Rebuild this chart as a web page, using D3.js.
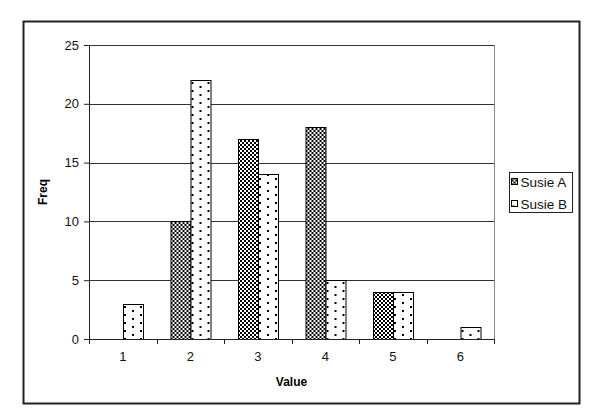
<!DOCTYPE html>
<html>
<head>
<meta charset="utf-8">
<script src="https://cdn.jsdelivr.net/npm/d3@7"></script>
<style>
  body { margin: 0; background: #fff; }
  text { font-family: "Liberation Sans", Arial, sans-serif; }
</style>
</head>
<body>
<div id="chart"></div>
<script>
const categories = ["1", "2", "3", "4", "5", "6"];
const seriesNames = ["Susie A", "Susie B"];
const susieA = [0, 10, 17, 18, 4, 0];
const susieB = [3, 22, 14, 5, 4, 1];
const yTicks = [0, 5, 10, 15, 20, 25];

function drawChart() {
    const width = 590;
    const height = 414;
    const plot = { left: 89, right: 494, top: 45, bottom: 339 };

    const svg = d3.select('#chart')
        .append('svg')
        .attr('width', width)
        .attr('height', height);

    // fill patterns, like the old Excel black & white ones
    const defs = svg.append('defs');
    const checker = defs.append('pattern')
        .attr('id', 'checker')
        .attr('patternUnits', 'userSpaceOnUse')
        .attr('width', 4).attr('height', 4);
    checker.append('rect').attr('width', 4).attr('height', 4).attr('fill', '#fff');
    checker.append('rect').attr('width', 2).attr('height', 2).attr('fill', '#000');
    checker.append('rect').attr('x', 2).attr('y', 2).attr('width', 2).attr('height', 2).attr('fill', '#000');

    const dots = defs.append('pattern')
        .attr('id', 'dots')
        .attr('patternUnits', 'userSpaceOnUse')
        .attr('width', 16).attr('height', 8);
    dots.append('rect').attr('width', 16).attr('height', 8).attr('fill', '#fff');
    dots.append('rect').attr('x', 3).attr('y', 2).attr('width', 2).attr('height', 2).attr('fill', '#000');
    dots.append('rect').attr('x', 11).attr('y', 6).attr('width', 2).attr('height', 2).attr('fill', '#000');

    const fills = { "Susie A": "url(#checker)", "Susie B": "url(#dots)" };

    // outer chart border
    svg.append('rect')
        .attr('x', 23.5).attr('y', 21.5)
        .attr('width', 556).attr('height', 382)
        .attr('fill', 'none')
        .attr('stroke', '#222')
        .attr('stroke-width', 2);

    const x0 = d3.scaleBand()
        .domain(categories)
        .range([plot.left, plot.right]);

    const barW = 19.5;
    const x1 = d3.scaleBand()
        .domain(seriesNames)
        .range([(x0.bandwidth() - 2 * barW) / 2, (x0.bandwidth() + 2 * barW) / 2]);

    const y = d3.scaleLinear()
        .domain([0, 25])
        .range([plot.bottom, plot.top]);

    // gridlines
    svg.append('g')
        .selectAll('line')
        .data(yTicks.slice(1))
        .enter()
        .append('line')
        .attr('x1', plot.left).attr('x2', plot.right)
        .attr('y1', d => Math.round(y(d)) + 0.5)
        .attr('y2', d => Math.round(y(d)) + 0.5)
        .attr('stroke', '#333');

    // right edge of plot area
    svg.append('line')
        .attr('x1', plot.right + 0.5).attr('x2', plot.right + 0.5)
        .attr('y1', plot.top).attr('y2', plot.bottom)
        .attr('stroke', '#888');

    // bars
    const rows = categories.map((c, i) => ({ cat: c, values: [
        { name: "Susie A", v: susieA[i] },
        { name: "Susie B", v: susieB[i] }
    ] }));

    const groups = svg.append('g')
        .selectAll('g')
        .data(rows)
        .enter()
        .append('g')
        .attr('transform', d => `translate(${x0(d.cat)},0)`);

    groups.selectAll('rect')
        .data(d => d.values.filter(e => e.v > 0))
        .enter()
        .append('rect')
        .attr('x', d => Math.round(x1(d.name)) + 0.5)
        .attr('y', d => Math.round(y(d.v)) + 0.5)
        .attr('width', Math.round(x1.bandwidth()))
        .attr('height', d => Math.round(y(0)) - Math.round(y(d.v)))
        .attr('fill', d => fills[d.name])
        .attr('stroke', '#000')
        .attr('stroke-width', 1);

    // y axis
    const yAxis = svg.append('g')
        .attr('transform', `translate(${plot.left},0)`)
        .call(d3.axisLeft(y).tickValues(yTicks).tickSize(5).tickPadding(5));
    yAxis.select('.domain').attr('stroke', '#222');
    yAxis.selectAll('.tick line').attr('stroke', '#222');
    yAxis.selectAll('text')
        .style('font-size', '13px')
        .attr('fill', '#111');

    // x axis, ticks between categories
    const xAxis = svg.append('g')
        .attr('transform', `translate(0,${plot.bottom})`)
        .call(d3.axisBottom(x0).tickSize(0).tickPadding(13));
    xAxis.select('.domain').attr('stroke', '#222');
    xAxis.selectAll('text')
        .style('font-size', '13px')
        .attr('fill', '#111');
    xAxis.selectAll('.sep')
        .data(categories.concat(['end']))
        .enter()
        .append('line')
        .attr('x1', (d, i) => Math.round(plot.left + i * x0.step()) + 0.5)
        .attr('x2', (d, i) => Math.round(plot.left + i * x0.step()) + 0.5)
        .attr('y1', 0).attr('y2', 5)
        .attr('stroke', '#222');

    // axis titles
    svg.append('text')
        .attr('x', (plot.left + plot.right) / 2)
        .attr('y', 386)
        .attr('text-anchor', 'middle')
        .style('font-size', '12px')
        .style('font-weight', 'bold')
        .text('Value');

    svg.append('text')
        .attr('transform', 'translate(47,192) rotate(-90)')
        .attr('text-anchor', 'middle')
        .style('font-size', '12px')
        .style('font-weight', 'bold')
        .text('Freq');

    // legend
    const legendGroup = svg.append('g')
        .attr('transform', 'translate(509.5,172.5)');
    legendGroup.append('rect')
        .attr('width', 63).attr('height', 40)
        .attr('fill', '#fff')
        .attr('stroke', '#222');

    const legend = legendGroup.selectAll('.legend')
        .data(seriesNames)
        .enter()
        .append('g')
        .attr('class', 'legend')
        .attr('transform', (d, i) => `translate(0, ${9 + i * 22})`);

    legend.append('rect')
        .attr('x', 2).attr('y', -3)
        .attr('width', 6).attr('height', 6)
        .attr('fill', d => fills[d])
        .attr('stroke', '#000');

    legend.append('text')
        .attr('x', 11)
        .attr('y', 5)
        .text(d => d)
        .style('font-size', '13.5px')
        .attr('fill', '#111');
}

drawChart();
</script>
</body>
</html>
